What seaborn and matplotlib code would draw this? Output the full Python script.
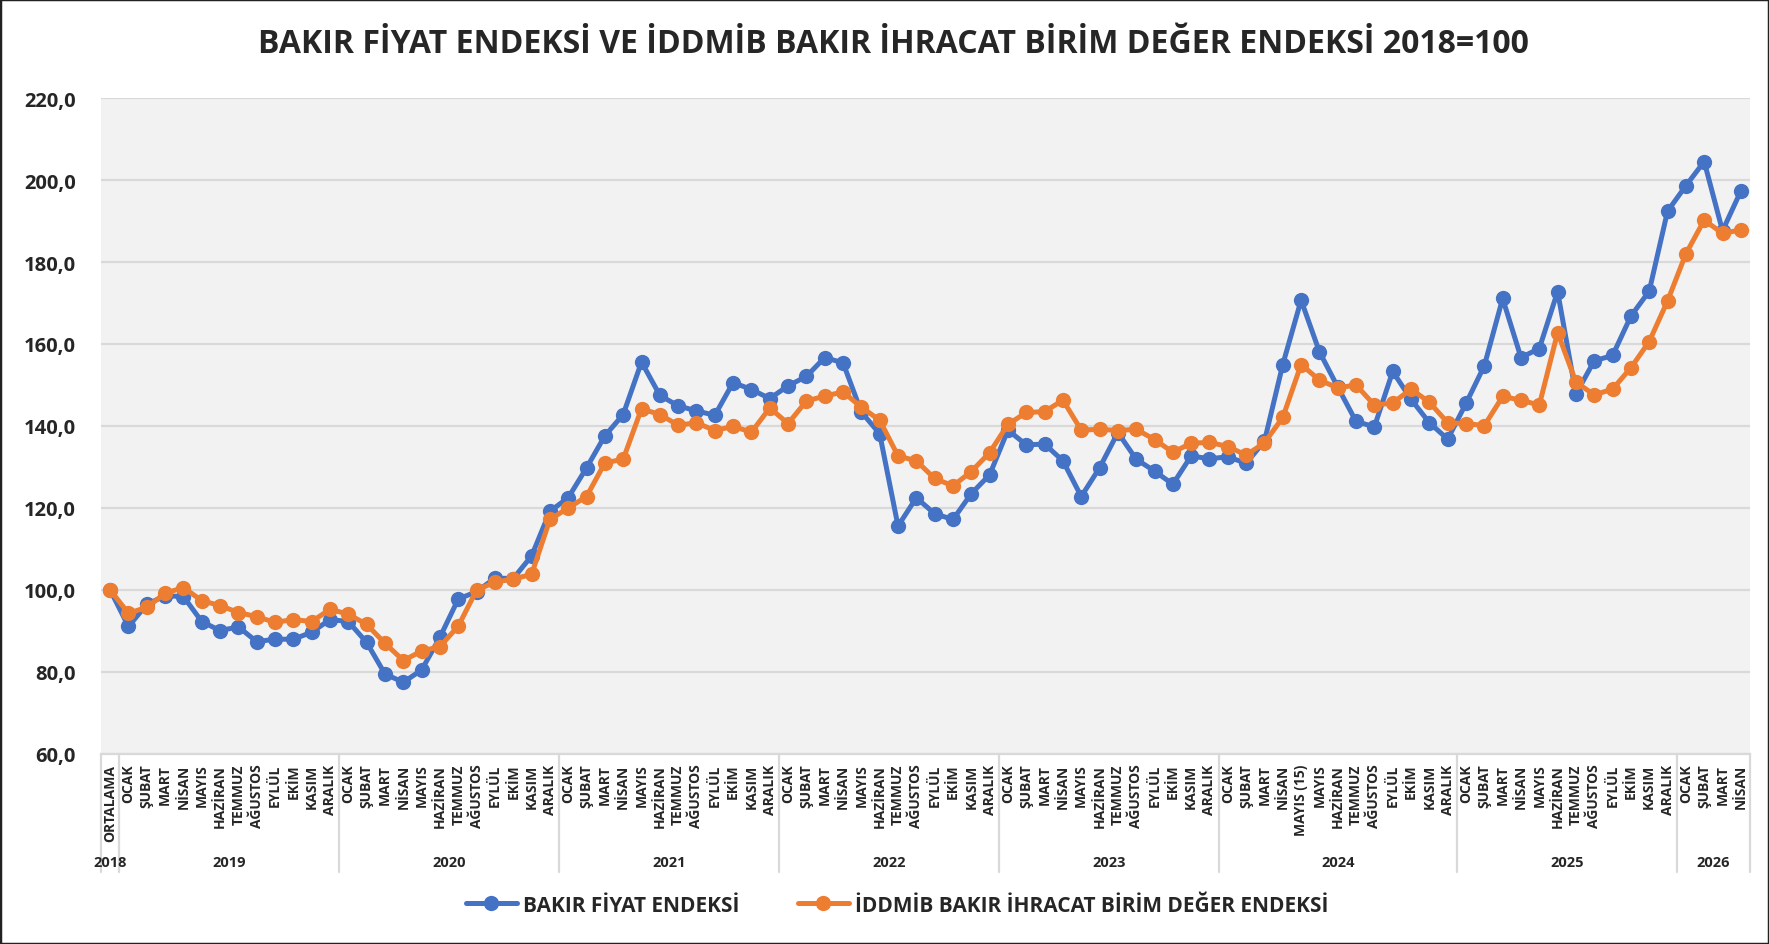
import matplotlib
matplotlib.use("Agg")
import matplotlib.pyplot as plt
import matplotlib.transforms as mtransforms
from matplotlib.lines import Line2D
from matplotlib.patches import Rectangle
from matplotlib.ticker import FuncFormatter
import seaborn as sns
import numpy as np
import pandas as pd

# --- data ---
aylar = ["OCAK", "ŞUBAT", "MART", "NİSAN", "MAYIS", "HAZİRAN", "TEMMUZ",
         "AĞUSTOS", "EYLÜL", "EKİM", "KASIM", "ARALIK"]
ay_etiketleri = (["ORTALAMA"] + aylar * 5 + aylar[:4] + ["MAYIS (15)"]
                 + aylar[4:] + aylar + aylar[:4])
yillar = ["2018", "2019", "2020", "2021", "2022", "2023", "2024", "2025", "2026"]
yil_ay_sayisi = [1, 12, 12, 12, 12, 12, 13, 12, 4]

bakir_fiyat = [
    100.0,
    91.1, 96.5, 98.6, 98.4, 92.3, 90.1, 91.0, 87.4, 88.0, 88.0, 89.7, 92.8,
    92.3, 87.2, 79.5, 77.5, 80.5, 88.5, 97.8, 99.6, 102.9, 102.8, 108.3, 119.2,
    122.5, 129.8, 137.6, 142.8, 155.6, 147.5, 144.9, 143.7, 142.6, 150.6, 148.9, 146.7,
    149.8, 152.1, 156.7, 155.4, 143.4, 138.1, 115.6, 122.5, 118.6, 117.2, 123.5, 128.1,
    139.0, 135.4, 135.6, 131.5, 122.8, 129.8, 138.4, 131.9, 129.0, 125.8, 132.7, 132.0,
    132.5, 130.9, 136.3, 155.0, 170.7, 158.1, 149.5, 141.1, 139.8, 153.3, 146.5, 140.8, 136.8,
    145.5, 154.7, 171.1, 156.7, 158.9, 172.8, 147.8, 155.9, 157.2, 166.8, 172.9, 192.4,
    198.6, 204.5, 187.6, 197.3,
]
iddmib_ihracat = [
    100.0,
    94.3, 95.8, 99.2, 100.6, 97.4, 96.2, 94.5, 93.5, 92.1, 92.8, 92.3, 95.3,
    94.1, 91.6, 87.0, 82.8, 85.1, 86.2, 91.2, 100.0, 101.9, 102.7, 103.8, 117.2,
    120.0, 122.8, 131.0, 131.9, 144.2, 142.8, 140.2, 140.8, 138.9, 139.9, 138.5, 144.4,
    140.6, 146.1, 147.3, 148.3, 144.6, 141.4, 132.7, 131.5, 127.2, 125.4, 128.9, 133.5,
    140.4, 143.3, 143.5, 146.3, 139.0, 139.2, 138.9, 139.2, 136.7, 133.6, 135.8, 136.0,
    135.0, 132.9, 135.9, 142.1, 155.0, 151.2, 149.3, 150.0, 145.1, 145.6, 149.0, 145.8, 140.8,
    140.6, 140.1, 147.2, 146.3, 145.1, 162.8, 150.7, 147.6, 149.0, 154.2, 160.6, 170.5,
    182.0, 190.2, 187.0, 187.8,
]
seri_adlari = ["BAKIR FİYAT ENDEKSİ", "İDDMİB BAKIR İHRACAT BİRİM DEĞER ENDEKSİ"]
renkler = ["#4472C4", "#ED7D31"]
y_ticks = [60, 80, 100, 120, 140, 160, 180, 200, 220]

n = len(ay_etiketleri)
df = pd.DataFrame({
    "pos": list(range(n)) * 2,
    "deger": bakir_fiyat + iddmib_ihracat,
    "seri": [seri_adlari[0]] * n + [seri_adlari[1]] * n,
})

sns.set_style("white")
plt.rcParams["font.family"] = ["Open Sans", "DejaVu Sans"]
plt.rcParams["font.weight"] = "bold"

fig = plt.figure(figsize=(17.69, 9.45), dpi=100)
ax = fig.add_axes([101 / 1769, 1 - 755 / 945, 1649 / 1769, 656 / 945])
ax.set_facecolor("#F2F2F2")

sns.lineplot(data=df, x="pos", y="deger", hue="seri", hue_order=seri_adlari,
             palette=renkler, marker="o", markersize=11, markeredgewidth=0,
             linewidth=3.6, errorbar=None, legend=False, ax=ax)

ax.set_xlim(-0.5, n - 0.5)
ax.set_ylim(60, 220)
ax.set_yticks(y_ticks)
ax.yaxis.set_major_formatter(FuncFormatter(lambda v, p: f"{v:.1f}".replace(".", ",")))
ax.grid(axis="y", color="#D9D9D9", lw=1.6)
ax.grid(axis="x", visible=False)
ax.set_axisbelow(True)
for s in ["top", "left", "right"]:
    ax.spines[s].set_visible(False)
ax.spines["bottom"].set_color("#D9D9D9")
ax.spines["bottom"].set_linewidth(1.6)

ax.set_xticks(range(n))
ax.set_xticklabels(ay_etiketleri, rotation=90, fontsize=10, fontweight="bold")
ax.tick_params(axis="x", length=0, pad=7)
ax.tick_params(axis="y", length=0, pad=18, labelsize=14.5)
for t in ax.get_yticklabels():
    t.set_fontweight("bold")
ax.set_xlabel("")
ax.set_ylabel("")

# year groups under the month labels
trans = mtransforms.blended_transform_factory(ax.transData, ax.transAxes)
sinirlar = np.concatenate([[0], np.cumsum(yil_ay_sayisi)]) - 0.5
for b in sinirlar:
    ax.plot([b, b], [0, -0.18], transform=trans, color="#D9D9D9", lw=1.6, clip_on=False)
for yil, bas, son in zip(yillar, sinirlar[:-1], sinirlar[1:]):
    ax.text((bas + son) / 2, -0.165, yil, transform=trans, ha="center", va="center",
            fontsize=10.5, fontweight="bold")

fig.suptitle("BAKIR FİYAT ENDEKSİ VE İDDMİB BAKIR İHRACAT BİRİM DEĞER ENDEKSİ 2018=100",
             x=0.505, y=0.953, va="center", fontsize=23, fontweight="bold")

handles = [Line2D([], [], color=c, lw=3.6, marker="o", markersize=11, markeredgewidth=0)
           for c in renkler]
fig.legend(handles, seri_adlari, loc="center", bbox_to_anchor=(0.507, 0.041), ncol=2,
           frameon=False, prop={"size": 15, "weight": "bold"}, handlelength=2.45,
           columnspacing=2.8, handletextpad=0.3)

fig.add_artist(Rectangle((0, 0), 1, 1, transform=fig.transFigure, fill=False,
                         edgecolor="#222222", lw=2.5))

fig.savefig("out.png", dpi=100)
plt.close()
